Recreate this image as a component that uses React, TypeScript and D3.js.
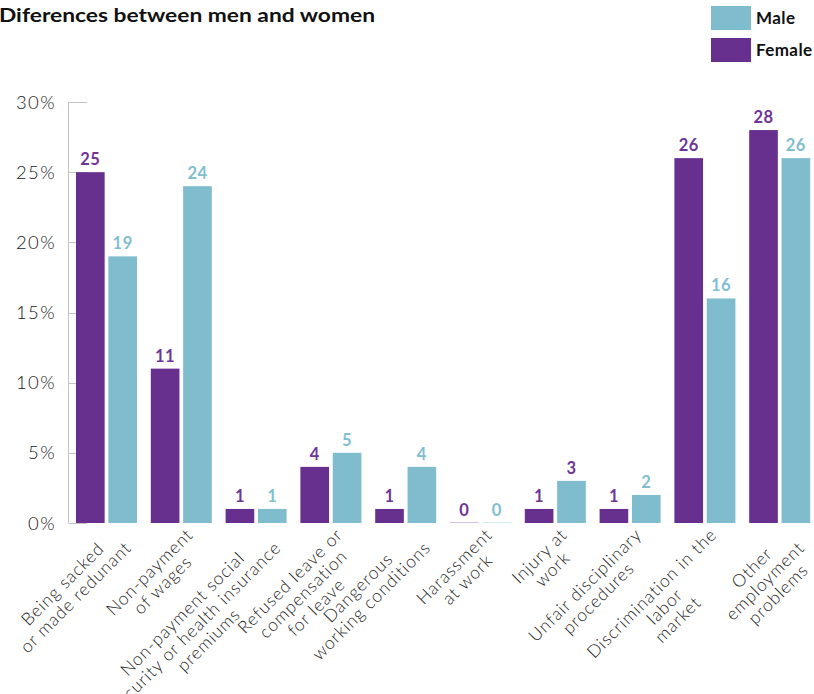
import React, { useEffect, useRef } from "react";
import * as d3 from "d3";

const categories: string[][] = [
  ["Being sacked", "or made redunant"],
  ["Non-payment", "of wages"],
  ["Non-payment social", "security or health insurance", "premiums"],
  ["Refused leave or", "compensation", "for leave"],
  ["Dangerous", "working conditions"],
  ["Harassment", "at work"],
  ["Injury at", "work"],
  ["Unfair disciplinary", "procedures"],
  ["Discrimination in the", "labor", "market"],
  ["Other", "employment", "problems"],
];
const femaleValues = [25, 11, 1, 4, 1, 0, 1, 1, 26, 28];
const maleValues = [19, 24, 1, 5, 4, 0, 3, 2, 16, 26];
const yTicks = [0, 5, 10, 15, 20, 25, 30];
const seriesNames = ["Female", "Male"];
const legendNames = ["Male", "Female"];
const titleText = "Diferences between men and women";

const W = 814;
const H = 694;
const PURPLE = "#67308e";
const PURPLE_TEXT = "#6e3596";
const BLUE = "#7ebcce";
const BLUE_TEXT = "#80bed0";
const LIGHT_FONT = "Lato, 'Open Sans', sans-serif";
const BOLD_FONT = "Lato, 'Open Sans', sans-serif";
// label colour oddity in the reference: the male "Injury at work" value is printed in purple
const purpleLabelOverride = new Set(["6|Male"]);

export default function App() {
  const ref = useRef<SVGSVGElement | null>(null);

  useEffect(() => {
    const svg = d3.select(ref.current);
    svg.selectAll("*").remove();

    const axisX = 68.5;
    const y = d3.scaleLinear().domain([0, 30]).range([523, 102]);
    const keys = categories.map((_, i) => String(i));
    const x0 = d3
      .scaleBand<string>()
      .domain(keys)
      .range([69.1, 817.1])
      .paddingInner(0.1845)
      .paddingOuter(0.0923);
    const x1 = d3
      .scaleBand<string>()
      .domain(seriesNames)
      .range([0, x0.bandwidth()])
      .paddingInner(0.115);

    // title
    svg
      .append("text")
      .attr("x", -1)
      .attr("y", 22)
      .attr("font-family", BOLD_FONT)
      .attr("font-weight", 700)
      .attr("font-size", 19.5)
      .attr("fill", "#111")
      .attr("textLength", 376)
      .attr("lengthAdjust", "spacingAndGlyphs")
      .text(titleText);

    // legend
    const legend = svg.append("g");
    legendNames.forEach((name, i) => {
      const gy = 6 + i * 32;
      legend
        .append("rect")
        .attr("x", 711)
        .attr("y", gy)
        .attr("width", 40)
        .attr("height", 24)
        .attr("fill", name === "Male" ? BLUE : PURPLE);
      legend
        .append("text")
        .attr("x", 756)
        .attr("y", gy + 18)
        .attr("font-family", BOLD_FONT)
        .attr("font-weight", 700)
        .attr("font-size", 17)
        .attr("letter-spacing", 0.4)
        .attr("fill", "#111")
        .text(name);
    });

    // axis
    const axis = svg.append("g");
    axis
      .append("line")
      .attr("x1", axisX)
      .attr("x2", axisX)
      .attr("y1", y(30))
      .attr("y2", y(0))
      .attr("stroke", "#c4c4c4")
      .attr("stroke-width", 1);
    yTicks.forEach((t) => {
      const ty = Math.round(y(t)) + 0.5;
      axis
        .append("line")
        .attr("x1", axisX)
        .attr("x2", 87)
        .attr("y1", ty)
        .attr("y2", ty)
        .attr("stroke", "#c4c4c4")
        .attr("stroke-width", 1);
      axis
        .append("text")
        .attr("x", 56)
        .attr("y", y(t))
        .attr("dy", "0.36em")
        .attr("text-anchor", "end")
        .attr("font-family", LIGHT_FONT)
        .attr("font-weight", 300)
        .attr("font-size", 18.5)
        .attr("letter-spacing", 1.4)
        .attr("fill", "#1a1a1a")
        .text(`${t}%`);
    });

    // bars
    const bars = svg.append("g");
    keys.forEach((k, i) => {
      const vals = [femaleValues[i], maleValues[i]];
      seriesNames.forEach((s, j) => {
        const v = vals[j];
        const bx = (x0(k) as number) + (x1(s) as number);
        const bw = x1.bandwidth();
        const isF = s === "Female";
        const top = y(v);
        if (v > 0) {
          bars
            .append("rect")
            .attr("x", bx)
            .attr("y", top)
            .attr("width", bw)
            .attr("height", y(0) - top)
            .attr("fill", isF ? PURPLE : BLUE);
        } else {
          bars
            .append("rect")
            .attr("x", bx)
            .attr("y", y(0) - 1)
            .attr("width", bw)
            .attr("height", 1)
            .attr("fill", isF ? PURPLE : BLUE)
            .attr("opacity", 0.3);
        }
        const purple = isF || purpleLabelOverride.has(`${i}|${s}`);
        bars
          .append("text")
          .attr("x", bx + bw / 2)
          .attr("y", top - 7)
          .attr("text-anchor", "middle")
          .attr("font-family", BOLD_FONT)
          .attr("font-weight", 700)
          .attr("font-size", 16.5)
          .attr("letter-spacing", 0.5)
          .attr("fill", purple ? PURPLE_TEXT : BLUE_TEXT)
          .text(String(v));
      });
    });

    // category labels
    const lh = 18.5;
    const labels = svg.append("g");
    keys.forEach((k, i) => {
      const cx = (x0(k) as number) + x0.bandwidth() / 2;
      const g = labels
        .append("g")
        .attr("transform", `translate(${cx + 4},${527}) rotate(-45)`);
      const texts = categories[i].map((line, li) =>
        g
          .append("text")
          .attr("y", 12.5 + li * lh)
          .attr("text-anchor", "middle")
          .attr("font-family", LIGHT_FONT)
          .attr("font-weight", 300)
          .attr("font-size", 17.5)
          .attr("letter-spacing", 0.9)
          .attr("fill", "#1a1a1a")
          .text(line)
      );
      const widths = texts.map((t) => (t.node() as SVGTextElement).getComputedTextLength());
      const maxW = d3.max(widths) || 0;
      texts.forEach((t) => t.attr("x", -maxW / 2));
    });
  }, []);

  return (
    <svg
      ref={ref}
      width={W}
      height={H}
      style={{ position: "absolute", left: 0, top: 0, background: "#fff" }}
    />
  );
}
